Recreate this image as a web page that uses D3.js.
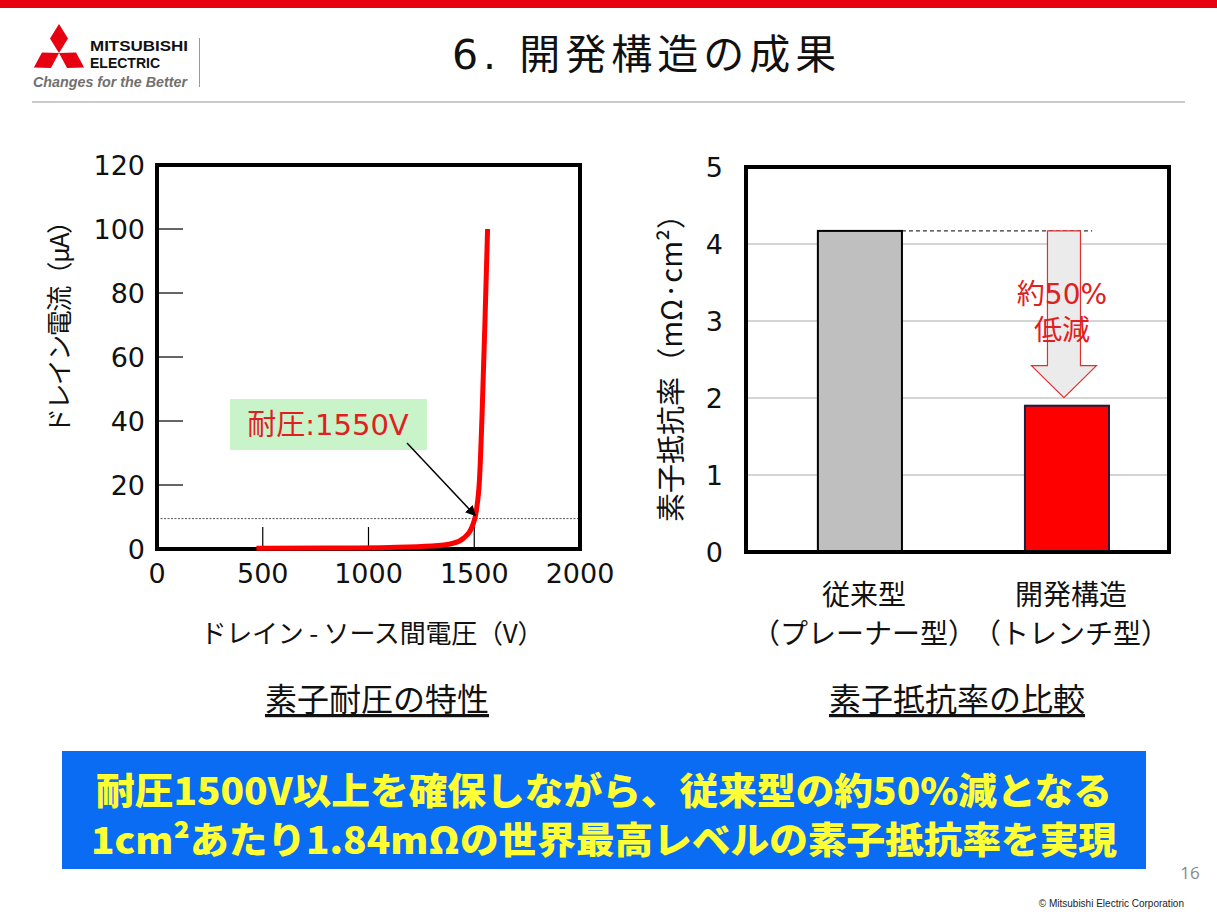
<!DOCTYPE html>
<html><head><meta charset="utf-8">
<script src="https://cdn.jsdelivr.net/npm/d3@7"></script>
<style>
html,body{margin:0;padding:0;background:#fff;}
svg{display:block;}
</style></head>
<body>
<script>
// ---------- DATA ----------
const title = "6. 開発構造の成果";
// Left chart: breakdown characteristic
const voltage = [470, 800, 1100, 1300, 1400, 1450, 1490, 1510, 1525, 1537, 1551, 1563];
const current = [0.2, 0.3, 0.5, 0.9, 1.8, 3.4, 7, 12, 22, 42, 72, 100];
const xTicks = [0, 500, 1000, 1500, 2000];
const yTicksLeft = [0, 20, 40, 60, 80, 100, 120];
const thresholdCurrent = 9.5;
const breakdownLabel = "耐圧:1550V";
const leftYLabel = "ドレイン電流（μA）";
const leftXLabel = "ドレイン - ソース間電圧（V）";
const leftCaption = "素子耐圧の特性";
// Right chart: specific on-resistance
const categories = ["従来型", "開発構造"];
const categorySub = ["（プレーナー型）", "（トレンチ型）"];
const resistance = [4.17, 1.9];
const yTicksRight = [0, 1, 2, 3, 4, 5];
const rightYLabel = "素子抵抗率（mΩ·cm²）";
const rightCaption = "素子抵抗率の比較";
const reductionLabel = ["約50%", "低減"];
const bannerLines = ["耐圧1500V以上を確保しながら、従来型の約50%減となる",
                     "1cm²あたり1.84mΩの世界最高レベルの素子抵抗率を実現"];

// ---------- SETUP ----------
const W = 1217, H = 912;
const svg = d3.select("body").append("svg").attr("width", W).attr("height", H);
const JP = '"Noto Sans CJK JP", sans-serif';
const MIX = '"DejaVu Sans", "Noto Sans CJK JP", sans-serif';

svg.append("rect").attr("width", W).attr("height", H).attr("fill", "#fff");
// top red bar
svg.append("rect").attr("x", 0).attr("y", 0).attr("width", W).attr("height", 8).attr("fill", "#e60012");
// separator line
svg.append("line").attr("x1", 32).attr("x2", 1185).attr("y1", 102).attr("y2", 102)
  .attr("stroke", "#b8b8b8").attr("stroke-width", 1.5);

// ---------- LOGO ----------
const logo = svg.append("g");
const C = [59, 53];
const dia = `M${C[0]},${C[1]} L${C[0]-9},${C[1]-14.5} L${C[0]},${C[1]-29} L${C[0]+9},${C[1]-14.5} Z`;
[0, 120, 240].forEach(r => {
  logo.append("path").attr("d", dia).attr("fill", "#e60012")
    .attr("transform", `rotate(${r},${C[0]},${C[1]})`);
});
logo.append("text").attr("x", 90).attr("y", 51).text("MITSUBISHI")
  .attr("font-family", '"Liberation Sans Narrow","Liberation Sans",sans-serif')
  .attr("font-weight", "bold").attr("font-size", 15).attr("textLength", 98)
  .attr("lengthAdjust", "spacingAndGlyphs").attr("fill", "#111");
logo.append("text").attr("x", 90).attr("y", 68).text("ELECTRIC")
  .attr("font-family", '"Liberation Sans Narrow","Liberation Sans",sans-serif')
  .attr("font-weight", "bold").attr("font-size", 15).attr("textLength", 70)
  .attr("lengthAdjust", "spacingAndGlyphs").attr("fill", "#111");
logo.append("text").attr("x", 33).attr("y", 87).text("Changes for the Better")
  .attr("font-family", '"Liberation Sans",sans-serif').attr("font-style", "italic")
  .attr("font-weight", "bold").attr("font-size", 14.5).attr("textLength", 154)
  .attr("lengthAdjust", "spacingAndGlyphs").attr("fill", "#707070");
logo.append("line").attr("x1", 199.5).attr("x2", 199.5).attr("y1", 38).attr("y2", 87)
  .attr("stroke", "#999").attr("stroke-width", 1);

// ---------- TITLE ----------
svg.append("text").attr("x", 452).attr("y", 55).attr("dominant-baseline", "central")
  .attr("font-family", MIX).attr("font-size", 41).attr("letter-spacing", 5)
  .attr("fill", "#111").text(title);

// ---------- LEFT CHART ----------
const xL = d3.scaleLinear().domain([0, 2000]).range([157, 580]);
const yL = d3.scaleLinear().domain([0, 120]).range([549, 165]);
const gL = svg.append("g");

// y tick labels
gL.selectAll(".ytl").data(yTicksLeft).join("text")
  .attr("x", 145).attr("y", d => yL(d)).attr("dominant-baseline", "central")
  .attr("text-anchor", "end").attr("font-family", MIX).attr("font-size", 27)
  .attr("fill", "#111").text(d => d);
// x tick labels
gL.selectAll(".xtl").data(xTicks).join("text")
  .attr("x", d => xL(d)).attr("y", 573).attr("dominant-baseline", "central")
  .attr("text-anchor", "middle").attr("font-family", MIX).attr("font-size", 27)
  .attr("fill", "#111").text(d => d);
// inner ticks
gL.selectAll(".yt").data(yTicksLeft.filter(d => d > 0 && d < 120)).join("line")
  .attr("x1", xL(0)).attr("x2", xL(0) + 26).attr("y1", d => yL(d)).attr("y2", d => yL(d))
  .attr("stroke", "#000").attr("stroke-width", 1.2);
gL.selectAll(".xt").data(xTicks.filter(d => d > 0 && d < 2000)).join("line")
  .attr("x1", d => xL(d)).attr("x2", d => xL(d)).attr("y1", yL(0)).attr("y2", yL(0) - 22)
  .attr("stroke", "#000").attr("stroke-width", 1.2);
// threshold dotted line
gL.append("line").attr("x1", xL(0)).attr("x2", xL(2000))
  .attr("y1", yL(thresholdCurrent)).attr("y2", yL(thresholdCurrent))
  .attr("stroke", "#555").attr("stroke-width", 1).attr("stroke-dasharray", "2,1.5");
// box
gL.append("rect").attr("x", xL(0)).attr("y", yL(120))
  .attr("width", xL(2000) - xL(0)).attr("height", yL(0) - yL(120))
  .attr("fill", "none").attr("stroke", "#000").attr("stroke-width", 4);
// curve
const lineGen = d3.line().x(d => xL(d[0])).y(d => yL(d[1])).curve(d3.curveMonotoneX);
gL.append("path").datum(voltage.map((v, i) => [v, current[i]]))
  .attr("d", lineGen).attr("fill", "none").attr("stroke", "#f00")
  .attr("stroke-width", 5).attr("stroke-linejoin", "round");
// annotation label
gL.append("rect").attr("x", 230).attr("y", 399).attr("width", 197).attr("height", 51)
  .attr("fill", "#c9f3c9");
gL.append("text").attr("x", 328).attr("y", 425).attr("dominant-baseline", "central")
  .attr("text-anchor", "middle").attr("font-family", MIX).attr("font-size", 29)
  .attr("fill", "#e02020").text(breakdownLabel);
// arrow
const defs = svg.append("defs");
defs.append("marker").attr("id", "ah").attr("viewBox", "0 0 10 10").attr("refX", 9).attr("refY", 5)
  .attr("markerWidth", 7).attr("markerHeight", 7).attr("orient", "auto")
  .append("path").attr("d", "M0,0 L10,5 L0,10 Z").attr("fill", "#000");
gL.append("line").attr("x1", 407).attr("y1", 443).attr("x2", xL(1505)).attr("y2", yL(thresholdCurrent) - 3)
  .attr("stroke", "#000").attr("stroke-width", 1.5).attr("marker-end", "url(#ah)");
// axis labels
gL.append("text").attr("transform", `translate(57,321) rotate(-90)`)
  .attr("text-anchor", "middle").attr("dominant-baseline", "central")
  .attr("font-family", JP).attr("font-size", 26).attr("textLength", 226)
  .attr("fill", "#111").text(leftYLabel);
gL.append("text").attr("x", 372).attr("y", 631).attr("text-anchor", "middle")
  .attr("dominant-baseline", "central").attr("font-family", JP).attr("font-size", 26)
  .attr("textLength", 343).attr("fill", "#111").text(leftXLabel);
gL.append("text").attr("x", 377).attr("y", 697).attr("text-anchor", "middle")
  .attr("dominant-baseline", "central").attr("font-family", JP).attr("font-size", 32)
  .attr("fill", "#111").attr("text-decoration", "underline").text(leftCaption);

// ---------- RIGHT CHART ----------
const xR = d3.scaleBand().domain(categories).range([746, 1169]).paddingInner(0.594).paddingOuter(0.3185).align(0.545);
const yR = d3.scaleLinear().domain([0, 5]).range([552, 167]);
const gR = svg.append("g");
// gridlines
gR.selectAll(".grid").data(yTicksRight.filter(d => d > 0 && d < 5)).join("line")
  .attr("x1", 746).attr("x2", 1169).attr("y1", d => yR(d)).attr("y2", d => yR(d))
  .attr("stroke", "#aaa").attr("stroke-width", 1);
// y tick labels
gR.selectAll(".ytl").data(yTicksRight).join("text")
  .attr("x", 723).attr("y", d => yR(d)).attr("dominant-baseline", "central")
  .attr("text-anchor", "end").attr("font-family", MIX).attr("font-size", 27)
  .attr("fill", "#111").text(d => d);
// bars
const barFill = ["#bfbfbf", "#ff0000"];
const barStroke = ["#000", "#1c1c3c"];
gR.selectAll(".bar").data(categories).join("rect")
  .attr("x", d => xR(d)).attr("y", (d, i) => yR(resistance[i]))
  .attr("width", xR.bandwidth()).attr("height", (d, i) => yR(0) - yR(resistance[i]))
  .attr("fill", (d, i) => barFill[i]).attr("stroke", (d, i) => barStroke[i]).attr("stroke-width", 2);
// dashed reference line
const refY = yR(resistance[0]);
gR.append("line").attr("x1", xR(categories[0]) + xR.bandwidth()).attr("x2", xR(categories[1]) + xR.bandwidth() * 0.8)
  .attr("y1", refY).attr("y2", refY).attr("stroke", "#000").attr("stroke-width", 1).attr("stroke-dasharray", "4,3");
// block arrow
const ax = xR(categories[1]) + xR.bandwidth() / 2 - 3;
const aTop = refY, aTip = yR(resistance[1]) - 8, headH = 32, shaftW = 33, headW = 65;
const arrowPath = `M${ax - shaftW/2},${aTop} L${ax + shaftW/2},${aTop} L${ax + shaftW/2},${aTip - headH}
  L${ax + headW/2},${aTip - headH} L${ax},${aTip} L${ax - headW/2},${aTip - headH} L${ax - shaftW/2},${aTip - headH} Z`;
gR.append("path").attr("d", arrowPath).attr("fill", "#ebebeb").attr("stroke", "#e03030").attr("stroke-width", 1.2);
gR.selectAll(".red").data(reductionLabel).join("text")
  .attr("x", ax - 2).attr("y", (d, i) => 294 + i * 36).attr("text-anchor", "middle")
  .attr("dominant-baseline", "central").attr("font-family", MIX).attr("font-size", 28)
  .attr("fill", "#e02020").text(d => d);
// box
gR.append("rect").attr("x", 746).attr("y", yR(5)).attr("width", 1169 - 746).attr("height", yR(0) - yR(5))
  .attr("fill", "none").attr("stroke", "#000").attr("stroke-width", 4);
// category labels
gR.selectAll(".cat").data(categories).join("text")
  .attr("x", d => xR(d) + xR.bandwidth() / 2 + 4).attr("y", 593).attr("text-anchor", "middle")
  .attr("dominant-baseline", "central").attr("font-family", JP).attr("font-size", 28)
  .attr("fill", "#111").text(d => d);
gR.selectAll(".catsub").data(categorySub).join("text")
  .attr("x", (d, i) => xR(categories[i]) + xR.bandwidth() / 2 + 4).attr("y", 632).attr("text-anchor", "middle")
  .attr("dominant-baseline", "central").attr("font-family", JP).attr("font-size", 28)
  .attr("fill", "#111").text(d => d);
// y label
gR.append("text").attr("transform", `translate(669,361) rotate(-90)`)
  .attr("text-anchor", "middle").attr("dominant-baseline", "central")
  .attr("font-family", JP).attr("font-size", 29).attr("textLength", 322)
  .attr("fill", "#111").text(rightYLabel);
gR.append("text").attr("x", 957).attr("y", 697).attr("text-anchor", "middle")
  .attr("dominant-baseline", "central").attr("font-family", JP).attr("font-size", 32)
  .attr("fill", "#111").attr("text-decoration", "underline").text(rightCaption);

// ---------- BANNER ----------
svg.append("rect").attr("x", 62).attr("y", 751).attr("width", 1084).attr("height", 118).attr("fill", "#0a6cf2");
svg.selectAll(".ban").data(bannerLines).join("text")
  .attr("x", 604).attr("y", (d, i) => 789 + i * 49).attr("text-anchor", "middle")
  .attr("dominant-baseline", "central").attr("font-family", JP).attr("font-weight", 900)
  .attr("font-size", 37).attr("fill", "#ffff33")
  .attr("textLength", (d, i) => i === 0 ? 1016 : 1026).attr("lengthAdjust", "spacingAndGlyphs")
  .text(d => d);

// ---------- FOOTER ----------
svg.append("text").attr("x", 1190).attr("y", 872).attr("text-anchor", "middle")
  .attr("dominant-baseline", "central").attr("font-family", '"Open Sans",sans-serif')
  .attr("font-size", 17).attr("fill", "#888").text("16");
svg.append("text").attr("x", 1184).attr("y", 903).attr("text-anchor", "end")
  .attr("dominant-baseline", "central").attr("font-family", '"Liberation Sans",sans-serif')
  .attr("font-size", 10).attr("fill", "#222").text("© Mitsubishi Electric Corporation");
</script>
</body></html>
